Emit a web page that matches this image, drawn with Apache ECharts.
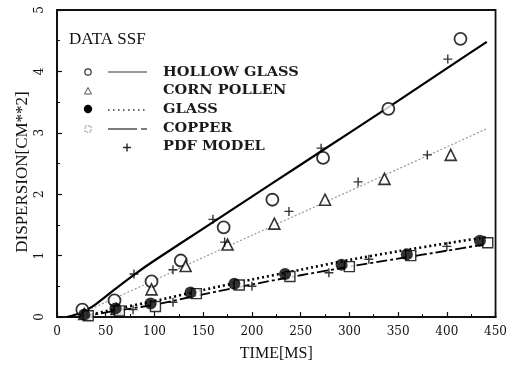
<!DOCTYPE html>
<html>
<head>
<meta charset="utf-8">
<script src="https://cdn.jsdelivr.net/npm/echarts@6/dist/echarts.min.js"></script>
<style>
  html, body { margin: 0; padding: 0; background: #fff; }
  #chart { width: 510px; height: 367px; }
</style>
</head>
<body>
<div id="chart"></div>
<script>
// Dispersion vs. time, SSF data for four particle types plus PDF model
const xTicks = [0, 50, 100, 150, 200, 250, 300, 350, 400, 450];
const yTicks = [0, 1, 2, 3, 4, 5];

// measured points (time in ms, dispersion in cm**2)
const hollowX = [26, 59, 97, 127, 171, 221, 273, 340, 414];
const hollowY = [0.12, 0.27, 0.58, 0.92, 1.46, 1.91, 2.59, 3.39, 4.53];

const cornX = [28, 61, 97, 132, 175, 223, 275, 336, 404];
const cornY = [0.05, 0.13, 0.45, 0.83, 1.18, 1.52, 1.91, 2.25, 2.64];

const glassX = [28, 60, 96, 137, 182, 234, 292, 359, 434];
const glassY = [0.04, 0.14, 0.22, 0.40, 0.54, 0.70, 0.85, 1.02, 1.24];

const copperX = [32, 64, 101, 143, 187, 239, 300, 363, 442];
const copperY = [0.02, 0.10, 0.17, 0.38, 0.52, 0.66, 0.82, 1.00, 1.21];

const pdfX = [79, 160, 271, 401, 119, 172, 238, 309, 380, 78, 119, 200, 279, 320, 400];
const pdfY = [0.70, 1.59, 2.75, 4.20, 0.77, 1.22, 1.72, 2.20, 2.64, 0.12, 0.24, 0.50, 0.72, 0.94, 1.15];

// fitted curves
const hollowFitX = [10, 25, 40, 60, 80, 100, 150, 200, 250, 300, 350, 400, 441];
const hollowFitY = [0, 0.07, 0.21, 0.46, 0.7, 0.92, 1.44, 1.96, 2.48, 3.0, 3.52, 4.05, 4.48];

const cornFitX = [20, 50, 100, 150, 200, 250, 300, 350, 400, 440];
const cornFitY = [0.02, 0.24, 0.6, 0.97, 1.33, 1.69, 2.05, 2.41, 2.77, 3.06];

const glassFitX = [30, 60, 100, 150, 200, 250, 300, 350, 400, 440];
const glassFitY = [0.02, 0.13, 0.26, 0.44, 0.61, 0.77, 0.93, 1.07, 1.2, 1.3];

const copperFitX = [25, 60, 100, 150, 200, 250, 300, 350, 400, 438];
const copperFitY = [0, 0.1, 0.2, 0.37, 0.53, 0.68, 0.82, 0.95, 1.08, 1.18];

const zip = (xs, ys) => xs.map((x, i) => [x, ys[i]]);

const SERIF = '"DejaVu Serif", "Liberation Serif", serif';
const TIMES = '"Liberation Serif", serif';

const chart = echarts.init(document.getElementById('chart'), null, { renderer: 'canvas' });

function lineSeries(name, xs, ys, style) {
  return {
    name: name, type: 'line', data: zip(xs, ys), showSymbol: false, symbol: 'none',
    smooth: 0.25, lineStyle: style, z: 2, silent: true
  };
}
function pointSeries(name, xs, ys, symbol, size, itemStyle) {
  return {
    name: name, type: 'scatter', data: zip(xs, ys), symbol: symbol, symbolSize: size,
    itemStyle: itemStyle, z: 3, silent: true
  };
}

const plusPath = 'path://M5,0 L5,10 M0,5 L10,5';

// legend block (top-left inside the frame)
const legendRows = [
  { text: 'HOLLOW GLASS', y: 73 },
  { text: 'CORN POLLEN', y: 91 },
  { text: 'GLASS', y: 110 },
  { text: 'COPPER', y: 129 },
  { text: 'PDF MODEL', y: 147 }
];
const graphics = [
  { type: 'text', left: 69, top: 31, style: { text: 'DATA SSF', font: '17px ' + TIMES, fill: '#111' } },
  // vertical axis title, reading bottom to top
  {
    type: 'text', x: 23, y: 172, rotation: Math.PI / 2,
    style: { text: 'DISPERSION[CM**2]', font: '17px ' + TIMES, fill: '#111', align: 'center', verticalAlign: 'middle' }
  }
];
legendRows.forEach(r => {
  graphics.push({
    type: 'text', x: 163, y: r.y, scaleX: 1.12,
    style: { text: r.text, font: '600 13px ' + SERIF, fill: '#1a1a1a', textVerticalAlign: 'middle' }
  });
});
// legend icons
graphics.push(
  { type: 'circle', shape: { cx: 88, cy: 72, r: 3.2 }, style: { fill: '#fff', stroke: '#333', lineWidth: 1.2 } },
  { type: 'line', shape: { x1: 108, y1: 72, x2: 147, y2: 72 }, style: { stroke: '#333', lineWidth: 1.2 } },
  { type: 'polygon', shape: { points: [[88, 87.5], [91.5, 94], [84.5, 94]] }, style: { fill: '#fff', stroke: '#555', lineWidth: 1 } },
  { type: 'circle', shape: { cx: 88, cy: 109, r: 4.2 }, style: { fill: '#000' } },
  { type: 'line', shape: { x1: 108, y1: 110, x2: 145, y2: 110 }, style: { stroke: '#333', lineWidth: 1.5, lineDash: [1.5, 3.5] } },
  { type: 'rect', shape: { x: 85, y: 126, width: 6, height: 6 }, style: { fill: '#fff', stroke: '#999', lineWidth: 1, lineDash: [2, 1] } },
  { type: 'line', shape: { x1: 108, y1: 129, x2: 137, y2: 129 }, style: { stroke: '#333', lineWidth: 1.3 } },
  { type: 'line', shape: { x1: 141, y1: 129, x2: 147, y2: 129 }, style: { stroke: '#333', lineWidth: 1.3 } },
  { type: 'line', shape: { x1: 127, y1: 143.5, x2: 127, y2: 151.5 }, style: { stroke: '#222', lineWidth: 1.4 } },
  { type: 'line', shape: { x1: 123, y1: 147.5, x2: 131, y2: 147.5 }, style: { stroke: '#222', lineWidth: 1.4 } }
);

chart.setOption({
  animation: false,
  backgroundColor: '#fff',
  grid: { left: 57, right: 13, top: 10, bottom: 50, show: true, borderColor: '#111', borderWidth: 1.8, backgroundColor: 'transparent' },
  xAxis: {
    type: 'value', min: xTicks[0], max: xTicks[xTicks.length - 1], interval: 50,
    name: 'TIME[MS]', nameLocation: 'middle', nameGap: 29,
    nameTextStyle: { fontFamily: TIMES, fontSize: 16, color: '#111' },
    axisLine: { show: true, lineStyle: { color: '#111', width: 2 } },
    axisTick: { show: true, inside: true, length: 5, lineStyle: { color: '#111', width: 1.2 } },
    minorTick: { show: true, splitNumber: 2, length: 3, lineStyle: { color: '#111', width: 1 } },
    axisLabel: { fontFamily: SERIF, fontSize: 12, color: '#111', margin: 9 },
    splitLine: { show: false }
  },
  yAxis: {
    type: 'value', min: yTicks[0], max: yTicks[yTicks.length - 1], interval: 1,
    axisLine: { show: true, lineStyle: { color: '#111', width: 2 } },
    axisTick: { show: true, inside: true, length: 5, lineStyle: { color: '#111', width: 1.2 } },
    minorTick: { show: true, splitNumber: 2, length: 3, lineStyle: { color: '#111', width: 1 } },
    axisLabel: { fontFamily: SERIF, fontSize: 12, color: '#111', rotate: 90, margin: 11 },
    splitLine: { show: false }
  },
  graphic: graphics,
  series: [
    lineSeries('HOLLOW GLASS fit', hollowFitX, hollowFitY, { color: '#000', width: 2.2, type: 'solid' }),
    lineSeries('CORN POLLEN fit', cornFitX, cornFitY, { color: '#999', width: 1.2, type: [2, 2] }),
    lineSeries('GLASS fit', glassFitX, glassFitY, { color: '#000', width: 2.6, type: [2, 3] }),
    lineSeries('COPPER fit', copperFitX, copperFitY, { color: '#000', width: 1.8, type: [11, 3, 3, 3] }),
    pointSeries('HOLLOW GLASS', hollowX, hollowY, 'circle', 12, { color: '#fff', borderColor: '#000', borderWidth: 1.8 }),
    pointSeries('CORN POLLEN', cornX, cornY, 'triangle', 11, { color: '#fff', borderColor: '#000', borderWidth: 1.6 }),
    pointSeries('COPPER', copperX, copperY, 'rect', 10, { color: '#fff', borderColor: '#000', borderWidth: 1.4 }),
    pointSeries('GLASS', glassX, glassY, 'circle', 12, { color: '#000', borderColor: '#000', borderWidth: 0 }),
    pointSeries('PDF MODEL', pdfX, pdfY, plusPath, 9, { color: 'transparent', borderColor: '#000', borderWidth: 1.4 })
  ]
});
</script>
</body>
</html>
